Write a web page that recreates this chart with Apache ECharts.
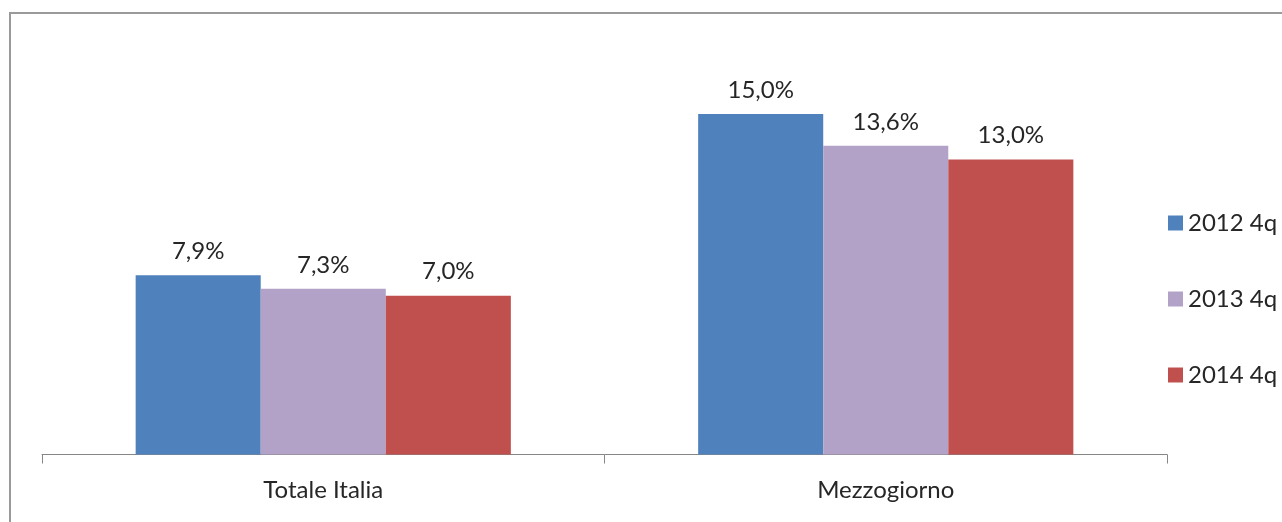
<!DOCTYPE html>
<html>
<head>
<meta charset="utf-8">
<script src="https://cdn.jsdelivr.net/npm/echarts@6/dist/echarts.min.js"></script>
<style>
html,body{margin:0;padding:0;background:#fff;}
#c{width:1282px;height:522px;}
</style>
</head>
<body>
<div id="c"></div>
<script>
const categories = ['Totale Italia', 'Mezzogiorno'];
const seriesNames = ['2012 4q', '2013 4q', '2014 4q'];
const v2012 = [7.9, 15.0];
const v2013 = [7.3, 13.6];
const v2014 = [7.0, 13.0];
const colors = ['#4F81BD', '#B3A2C7', '#C0504D'];

const FONT = 'Lato';
const FS = 24;
const TXT = '#262626';
const chart = echarts.init(document.getElementById('c'));
const mk = (name, data, color) => ({
  name, type: 'bar', data, barGap: 0, barCategoryGap: '33.3%',
  itemStyle: { color },
  label: {
    show: true, position: 'top', distance: 12,
    fontFamily: FONT, fontSize: FS, color: TXT,
    formatter: p => p.value.toFixed(1).replace('.', ',') + '%'
  }
});
chart.setOption({
  animation: false,
  graphic: [{
    type: 'rect', shape: { x: 10, y: 13, width: 1300, height: 600 },
    style: { fill: 'none', stroke: '#9a9a9a', lineWidth: 2 }, silent: true
  }],
  grid: { left: 42, right: 115, top: 46, bottom: 67.5 },
  legend: {
    orient: 'vertical', left: 1163, top: 206,
    itemWidth: 15, itemHeight: 15, itemGap: 52,
    icon: 'rect',
    textStyle: { fontFamily: FONT, fontSize: FS, color: TXT, lineHeight: 15 },
    data: seriesNames
  },
  xAxis: {
    type: 'category', data: categories,
    axisLine: { lineStyle: { color: '#868686', width: 1 } },
    axisTick: { show: true, length: 9, lineStyle: { color: '#868686' } },
    axisLabel: { margin: 24, fontFamily: FONT, fontSize: FS, color: TXT }
  },
  yAxis: { type: 'value', min: 0, max: 18, show: false, splitLine: { show: false } },
  series: [
    mk(seriesNames[0], v2012, colors[0]),
    mk(seriesNames[1], v2013, colors[1]),
    mk(seriesNames[2], v2014, colors[2])
  ]
});
</script>
</body>
</html>
